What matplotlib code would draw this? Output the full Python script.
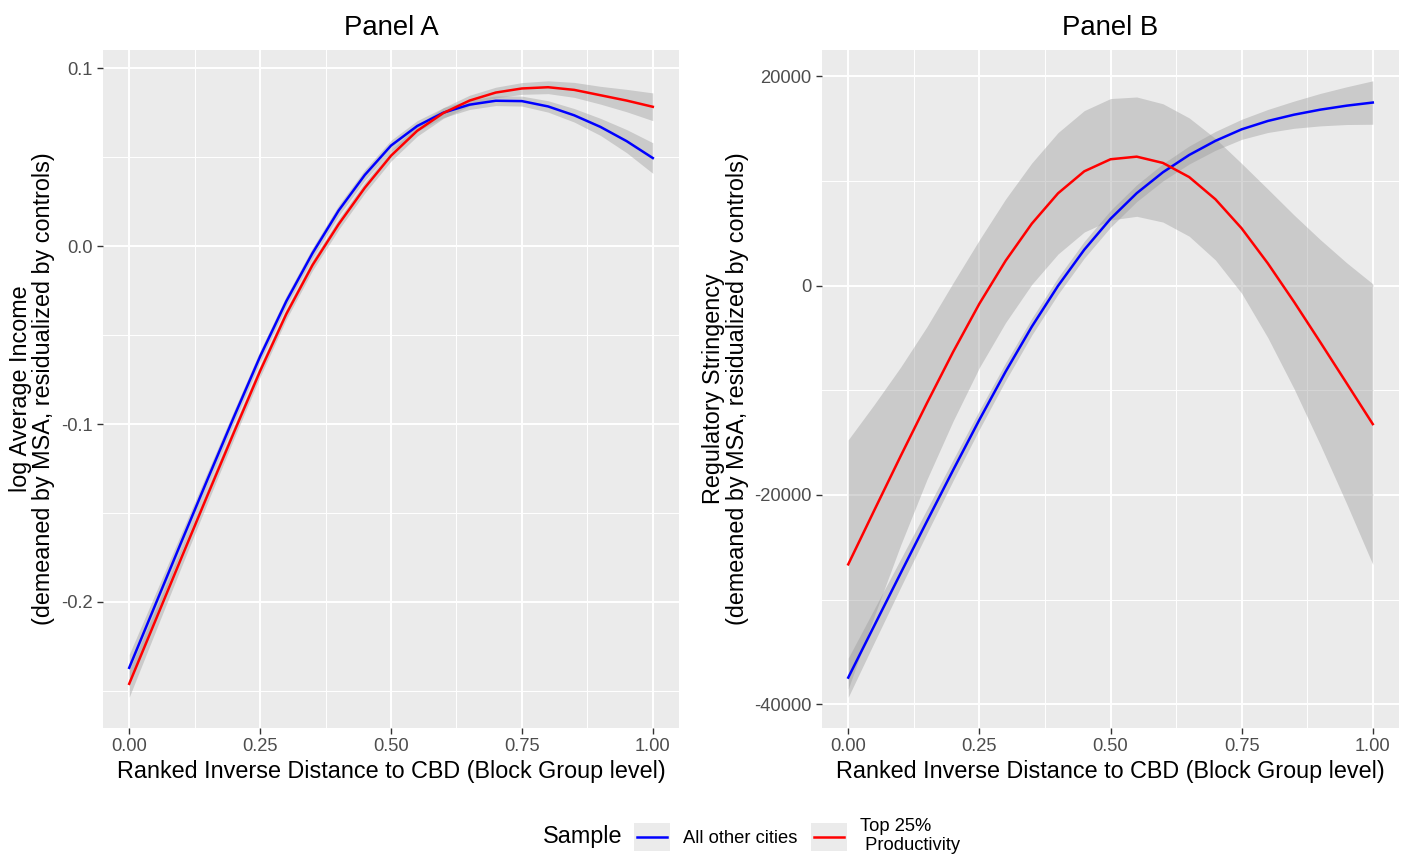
import numpy as np
import matplotlib.pyplot as plt
from matplotlib.lines import Line2D
from matplotlib.patches import Rectangle
from matplotlib.legend_handler import HandlerLine2D

plt.rcParams['font.family'] = ['Liberation Sans', 'DejaVu Sans']
plt.rcParams['axes.unicode_minus'] = False

# Datos (x = distancia inversa rankeada)
x_grid = [0.00, 0.05, 0.10, 0.15, 0.20, 0.25, 0.30, 0.35, 0.40, 0.45, 0.50,
          0.55, 0.60, 0.65, 0.70, 0.75, 0.80, 0.85, 0.90, 0.95, 1.00]

# Panel A: log ingreso promedio
a_other = [-0.237, -0.2015, -0.166, -0.1308, -0.096, -0.062, -0.031, -0.004, 0.020, 0.040, 0.0565,
           0.0675, 0.075, 0.0795, 0.0817, 0.0815, 0.0785, 0.0735, 0.067, 0.059, 0.0495]
a_other_se = [0.0075, 0.0062, 0.005, 0.0042, 0.0036, 0.0032, 0.003, 0.003, 0.003, 0.003, 0.003,
              0.003, 0.0028, 0.0027, 0.0027, 0.0028, 0.0032, 0.0038, 0.0048, 0.0065, 0.0086]
a_top = [-0.246, -0.2105, -0.175, -0.1397, -0.1047, -0.0702, -0.0382, -0.0107, 0.0123, 0.0328, 0.0508,
         0.0648, 0.0748, 0.0818, 0.0863, 0.0886, 0.0893, 0.0878, 0.0848, 0.0818, 0.0783]
a_top_se = [0.0075, 0.0062, 0.005, 0.0042, 0.0036, 0.0033, 0.003, 0.003, 0.003, 0.003, 0.003,
            0.003, 0.003, 0.003, 0.003, 0.0033, 0.0036, 0.0042, 0.005, 0.0063, 0.0078]

# Panel B: rigurosidad regulatoria
b_other = [-37450, -32450, -27470, -22520, -17620, -12820, -8220, -3920, -20, 3430, 6380,
           8830, 10830, 12480, 13830, 14930, 15730, 16330, 16810, 17190, 17490]
b_other_se = [1870, 1600, 1350, 1150, 1000, 900, 850, 800, 800, 800, 800,
              800, 820, 860, 900, 960, 1100, 1300, 1550, 1800, 2075]
b_top = [-26630, -21430, -16280, -11230, -6330, -1730, 2370, 5920, 8820, 10920, 12070,
         12320, 11720, 10370, 8250, 5470, 2120, -1560, -5410, -9310, -13230]
b_top_se = [11900, 10100, 8500, 7300, 6600, 6100, 5900, 5800, 5800, 5800, 5800,
            5700, 5650, 5650, 5800, 6200, 7100, 8300, 9800, 11500, 13400]

x_ticks = [0.0, 0.25, 0.5, 0.75, 1.0]
x_ticklabels = ['0.00', '0.25', '0.50', '0.75', '1.00']
a_yticks = [-0.2, -0.1, 0.0, 0.1]
b_yticks = [-40000, -20000, 0, 20000]

series_labels = ['All other cities', 'Top 25%\n Productivity']
series_colors = ['blue', 'red']

x = np.array(x_grid)


def style_panel(ax, yticks, ylabels, yminor):
    ax.set_facecolor('#EBEBEB')
    for s in ax.spines.values():
        s.set_visible(False)
    ax.set_xticks(x_ticks)
    ax.set_xticklabels(x_ticklabels)
    ax.set_xticks([0.125, 0.375, 0.625, 0.875], minor=True)
    ax.set_yticks(yticks)
    ax.set_yticklabels(ylabels)
    ax.set_yticks(yminor, minor=True)
    ax.grid(which='major', color='white', lw=1.4)
    ax.grid(which='minor', color='white', lw=0.7)
    ax.set_axisbelow(True)
    ax.tick_params(which='major', length=4, width=1.0, color='#333333',
                   labelcolor='#4D4D4D', labelsize=13.2, pad=3.5)
    ax.tick_params(which='minor', length=0)
    ax.set_xlim(-0.05, 1.05)


def draw_panel(ax, fits, ses):
    lows, highs = [], []
    for fit, se in zip(fits, ses):
        fit = np.array(fit)
        se = np.array(se)
        ax.fill_between(x, fit - se, fit + se, color='#999999', alpha=0.4, lw=0, zorder=2)
        lows.append((fit - se).min())
        highs.append((fit + se).max())
    for fit, col in zip(fits, series_colors):
        ax.plot(x, fit, color=col, lw=1.8, zorder=3)
    lo, hi = min(lows), max(highs)
    pad = 0.05 * (hi - lo)
    ax.set_ylim(lo - pad, hi + pad)


fig = plt.figure(figsize=(14.09, 8.55), dpi=100)
ax_a = fig.add_axes([103 / 1409, 1 - 728 / 855, 576 / 1409, 678 / 855])
ax_b = fig.add_axes([822 / 1409, 1 - 728 / 855, 577 / 1409, 678 / 855])

xlab = 'Ranked Inverse Distance to CBD (Block Group level)'

draw_panel(ax_a, [a_other, a_top], [a_other_se, a_top_se])
style_panel(ax_a, a_yticks, [f'{v:.1f}' for v in a_yticks], [-0.25, -0.15, -0.05, 0.05])
ax_a.set_title('Panel A', fontsize=19.8, pad=11)
ax_a.set_xlabel(xlab, fontsize=16.8, labelpad=3)
ax_a.set_ylabel('log Average Income\n(demeaned by MSA, residualized by controls)',
                fontsize=16.8, labelpad=4, linespacing=1.05)

draw_panel(ax_b, [b_other, b_top], [b_other_se, b_top_se])
style_panel(ax_b, b_yticks, [f'{v:d}' for v in b_yticks], [-30000, -10000, 10000])
ax_b.set_title('Panel B', fontsize=19.8, pad=11)
ax_b.set_xlabel(xlab, fontsize=16.8, labelpad=3)
ax_b.set_ylabel('Regulatory Stringency\n(demeaned by MSA, residualized by controls)',
                fontsize=16.8, labelpad=4, linespacing=1.05)


# Leyenda con fondo gris en cada clave (estilo ggplot)
class BoxedLine(HandlerLine2D):
    def create_artists(self, legend, orig_handle, xdescent, ydescent, width, height, fontsize, trans):
        box = Rectangle((-xdescent, -ydescent), width, height, facecolor='#EBEBEB',
                        edgecolor='none', transform=trans)
        line = Line2D([-xdescent + 0.08 * width, -xdescent + 0.92 * width],
                      [-ydescent + height / 2] * 2, color=orig_handle.get_color(),
                      lw=orig_handle.get_linewidth(), transform=trans)
        return [box, line]


handles = [Line2D([], [], color=c, lw=1.8, label=l) for c, l in zip(series_colors, series_labels)]
fig.text(583 / 1409, 1 - 836 / 855, 'Sample', ha='center', va='center', fontsize=16.8)
fig.legend(handles=handles, handler_map={Line2D: BoxedLine()}, loc='center left',
           bbox_to_anchor=(634 / 1409, 1 - 836 / 855), ncol=2, frameon=False, fontsize=13.2,
           handlelength=1.97, handleheight=1.97, handletextpad=0.7, columnspacing=0.75,
           borderpad=0, borderaxespad=0)

fig.savefig('out.png', dpi=100)
